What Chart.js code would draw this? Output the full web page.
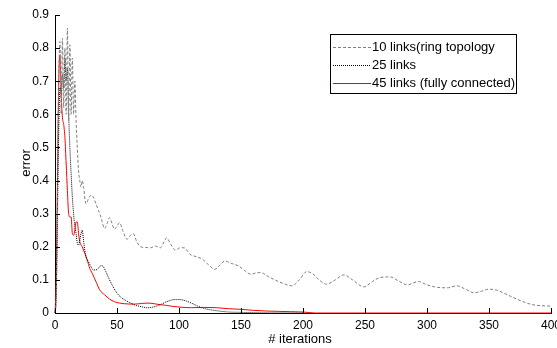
<!DOCTYPE html>
<html><head><meta charset="utf-8">
<script src="https://cdn.jsdelivr.net/npm/chart.js@4/dist/chart.umd.min.js"></script>
<style>html,body{margin:0;padding:0;background:#fff;overflow:hidden}</style>
</head><body>
<canvas id="c" width="557" height="348"></canvas>
<script>
// ---- data ----
const seriesLabels = ['10 links(ring topology', '25 links', '45 links (fully connected)'];
const xTicks = [0, 50, 100, 150, 200, 250, 300, 350, 400];
const yTicks = [0, 0.1, 0.2, 0.3, 0.4, 0.5, 0.6, 0.7, 0.8, 0.9];

const ringX = [0,1,2,3,4,5,6,7,8,9,10,11,12,13,14,15,16,17,18,19,20,21,22,23,25,27,29,31,33,35,37,40,42,44,46,48,50,52,55,58,61,63,66,69,73,77,81,85,88,90,93,97,101,104,109,114,119,124,129,133,137,142,148,153,158,162,166,172,179,185,191,197,203,208,213,219,226,233,240,249,256,262,270,277,284,293,300,306,316,324,331,338,344,350,356,362,370,377,384,392,400];
const ringY = [0,0.05,0.35,0.7,0.82,0.6,0.83,0.62,0.8,0.6,0.86,0.58,0.81,0.6,0.77,0.6,0.7,0.58,0.5,0.43,0.4,0.38,0.4,0.38,0.33,0.345,0.356,0.35,0.33,0.31,0.29,0.255,0.27,0.288,0.27,0.253,0.262,0.273,0.245,0.223,0.235,0.24,0.215,0.2,0.198,0.197,0.202,0.197,0.215,0.227,0.21,0.19,0.197,0.197,0.177,0.17,0.162,0.145,0.132,0.145,0.157,0.15,0.142,0.128,0.117,0.121,0.122,0.11,0.097,0.088,0.082,0.1,0.125,0.118,0.1,0.087,0.1,0.115,0.1,0.079,0.095,0.107,0.109,0.097,0.085,0.095,0.085,0.079,0.076,0.082,0.072,0.061,0.066,0.072,0.069,0.06,0.046,0.035,0.026,0.022,0.021];

const l25X = [0,1,2,3,4,5,6,7,8,9,10,11,12,13,14,15,16,17,18,19,20,21,22,23,24,25,27,29,31,33,35,37,39,41,44,47,50,54,58,62,66,70,74,78,82,86,90,94,98,102,106,110,115,120,125,130,140,150,160,200];
const l25Y = [0,0.05,0.3,0.55,0.68,0.66,0.72,0.68,0.77,0.7,0.74,0.6,0.5,0.42,0.35,0.3,0.26,0.24,0.21,0.205,0.22,0.24,0.25,0.22,0.19,0.17,0.155,0.14,0.13,0.13,0.135,0.143,0.14,0.125,0.1,0.078,0.06,0.045,0.036,0.028,0.022,0.019,0.016,0.017,0.021,0.027,0.034,0.039,0.041,0.04,0.036,0.03,0.021,0.014,0.01,0.007,0.003,0.002,0.001,0];

const l45X = [0,1,2,3,4,5,6,7,8,9,10,11,12,13,14,15,16,17,18,19,20,22,24,26,28,30,33,36,40,44,48,52,56,60,65,70,75,80,85,90,95,100,110,120,130,140,150,160,170,180,190,200,210,400];
const l45Y = [0,0.1,0.4,0.7,0.78,0.66,0.59,0.57,0.53,0.45,0.37,0.3,0.29,0.29,0.24,0.235,0.25,0.275,0.275,0.24,0.215,0.2,0.18,0.16,0.135,0.12,0.095,0.07,0.055,0.042,0.034,0.03,0.028,0.027,0.027,0.029,0.03,0.028,0.025,0.023,0.02,0.018,0.016,0.017,0.016,0.013,0.011,0.008,0.006,0.005,0.004,0.003,0,0];

const seriesColors = ['#7f7f7f', '#000000', '#ff0000'];
const seriesDash = [[3, 2], [1, 1], []];

const pts = (xs, ys) => xs.map((x, i) => ({x, y: ys[i]}));
const FONT = '"Liberation Sans", Arial, sans-serif';

const customDraw = {
  id: 'customDraw',
  afterDraw(chart) {
    const ctx = chart.ctx, xs = chart.scales.x, ys = chart.scales.y;
    const ca = chart.chartArea;
    ctx.save();
    ctx.strokeStyle = '#000'; ctx.lineWidth = 1; ctx.setLineDash([]);
    ctx.beginPath();
    yTicks.forEach(v => { const p = Math.round(ys.getPixelForValue(v)) + 0.5; ctx.moveTo(ca.left, p); ctx.lineTo(ca.left + 5, p); });
    xTicks.forEach(v => { const p = Math.round(xs.getPixelForValue(v)) + 0.5; ctx.moveTo(p, ca.bottom); ctx.lineTo(p, ca.bottom - 5); });
    ctx.stroke();
    // axis titles
    ctx.fillStyle = '#000';
    ctx.font = '13px ' + FONT;
    ctx.textAlign = 'center'; ctx.textBaseline = 'middle';
    ctx.fillText('# iterations', 300, 339);
    ctx.save(); ctx.translate(26, 163); ctx.rotate(-Math.PI / 2); ctx.fillText('error', 0, 0); ctx.restore();
    // legend
    const bx = 330.5, by = 34.5, bw = 186, bh = 59;
    ctx.fillStyle = '#fff'; ctx.fillRect(bx, by, bw, bh);
    ctx.strokeStyle = '#000'; ctx.setLineDash([]); ctx.strokeRect(bx, by, bw, bh);
    const rows = [47.5, 65.5, 83.5];
    chart.data.datasets.forEach((ds, i) => {
      ctx.strokeStyle = seriesColors[i]; ctx.lineWidth = 1;
      ctx.setLineDash(seriesDash[i]);
      ctx.beginPath(); ctx.moveTo(333, rows[i]); ctx.lineTo(371, rows[i]); ctx.stroke();
      ctx.setLineDash([]);
      ctx.fillStyle = '#000'; ctx.textAlign = 'left'; ctx.textBaseline = 'middle';
      ctx.font = '13px ' + FONT;
      ctx.fillText(ds.label, 372, rows[i]);
    });
    ctx.restore();
  }
};

new Chart(document.getElementById('c'), {
  type: 'line',
  data: {
    datasets: [
      { label: seriesLabels[0], data: pts(ringX, ringY), borderColor: seriesColors[0], borderDash: seriesDash[0], borderWidth: 1 },
      { label: seriesLabels[1], data: pts(l25X, l25Y), borderColor: seriesColors[1], borderDash: seriesDash[1], borderWidth: 1 },
      { label: seriesLabels[2], data: pts(l45X, l45Y), borderColor: seriesColors[2], borderWidth: 1 }
    ]
  },
  options: {
    responsive: false,
    animation: false,
    devicePixelRatio: 1,
    layout: { padding: { left: 0, right: 6, top: 15, bottom: 0 } },
    elements: { point: { radius: 0 }, line: { cubicInterpolationMode: 'monotone', fill: false } },
    datasets: { line: { clip: false } },
    plugins: { legend: { display: false }, tooltip: { enabled: false } },
    scales: {
      x: {
        type: 'linear', min: 0, max: 400,
        afterBuildTicks: s => { s.ticks = xTicks.map(v => ({value: v})); },
        afterFit: s => { s.height = 35; s.paddingLeft = 0; s.paddingRight = 0; },
        grid: { display: false, drawTicks: false },
        border: { display: true, color: '#000', width: 1 },
        ticks: { padding: 5, color: '#000', font: { family: FONT, size: 12 }, maxRotation: 0, autoSkip: false }
      },
      y: {
        type: 'linear', min: 0, max: 0.9,
        afterBuildTicks: s => { s.ticks = yTicks.map(v => ({value: v})); },
        afterFit: s => { s.width = 55; s.paddingTop = 0; s.paddingBottom = 0; },
        grid: { display: false, drawTicks: false },
        border: { display: true, color: '#000', width: 1 },
        ticks: { padding: 6, color: '#000', font: { family: FONT, size: 12 }, autoSkip: false,
          callback: v => (v === 0 ? '0' : String(Math.round(v * 10) / 10)) }
      }
    }
  },
  plugins: [customDraw]
});
</script>
</body></html>
